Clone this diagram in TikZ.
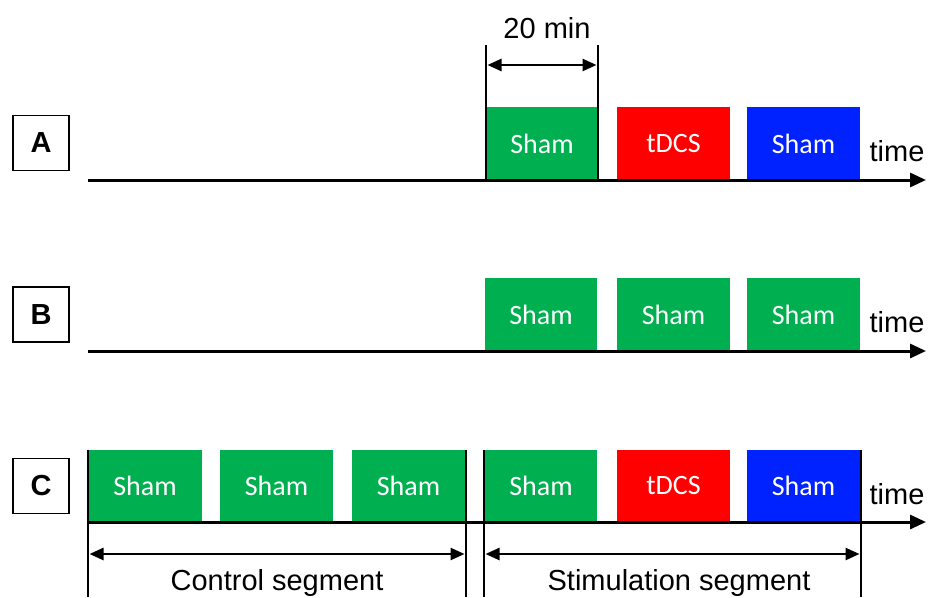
\documentclass[tikz,border=0pt]{standalone}
\usepackage{fontspec}
\setmainfont{Liberation Sans}
\newfontfamily\boxfont{Carlito}
\usetikzlibrary{arrows.meta}
\definecolor{sgreen}{HTML}{00B050}
\definecolor{sred}{HTML}{FF0000}
\definecolor{sblue}{HTML}{0022FF}
\tikzset{
  blk/.style={draw=none, inner sep=0pt, minimum width=113pt, minimum height=73pt, text=white, font=\boxfont\fontsize{28}{30}\selectfont},
  lbl/.style={draw=black, line width=1.5pt, minimum width=56pt, minimum height=55pt, inner sep=0pt, font=\bfseries\fontsize{29}{30}\selectfont},
  txt/.style={inner sep=0pt, font=\fontsize{29}{30}\selectfont},
  axis/.style={line width=3pt, -{Triangle[length=16pt,width=14pt]}},
  vline/.style={line width=2.5pt},
  dim/.style={line width=2.5pt, {Triangle[length=14pt,width=12pt]}-{Triangle[length=14pt,width=12pt]}}
}
\begin{document}
\begin{tikzpicture}[x=1pt,y=-1pt]
\useasboundingbox (0,0) rectangle (928,597);
% labels
\node[lbl] (la) at (41,143) {A};
\node[lbl] (lb) at (41,314.5) {B};
\node[lbl] (lc) at (41,486) {C};
% row A
\node[blk, fill=sgreen, minimum width=112pt] (a1) at (542,143.5) {Sham};
\node[blk, fill=sred] (a2) at (673.5,143.5) {tDCS};
\node[blk, fill=sblue] (a3) at (803.5,143.5) {Sham};
\coordinate (a0) at (88,180);
\coordinate (ae) at (926,180);
\draw[axis] (a0) -- (ae);
\node[txt, anchor=base] (at) at (897,161) {time};
\coordinate (v1t) at (486,45); \coordinate (v1b) at (486,180);
\coordinate (v2t) at (598,45); \coordinate (v2b) at (598,180);
\draw[vline] (v1t) -- (v1b);
\draw[vline] (v2t) -- (v2b);
\coordinate (d1) at (487.5,65); \coordinate (d2) at (596.5,65);
\draw[dim] (d1) -- (d2);
\node[txt, anchor=base] (dt) at (547,38) {20 min};
% row B
\node[blk, fill=sgreen, minimum width=112pt] (b1) at (541,314.5) {Sham};
\node[blk, fill=sgreen] (b2) at (673.5,314.5) {Sham};
\node[blk, fill=sgreen] (b3) at (803.5,314.5) {Sham};
\coordinate (b0) at (88,351);
\coordinate (be) at (926,351);
\draw[axis] (b0) -- (be);
\node[txt, anchor=base] (bt) at (897,332) {time};
% row C
\node[blk, fill=sgreen, minimum width=114pt, minimum height=72pt] (c1) at (145,486) {Sham};
\node[blk, fill=sgreen, minimum height=72pt] (c2) at (276.5,486) {Sham};
\node[blk, fill=sgreen, minimum height=72pt] (c3) at (408.5,486) {Sham};
\node[blk, fill=sgreen, minimum width=112pt, minimum height=72pt] (c4) at (541,486) {Sham};
\node[blk, fill=sred, minimum height=72pt] (c5) at (673.5,486) {tDCS};
\node[blk, fill=sblue, minimum height=72pt] (c6) at (803.5,486) {Sham};
\coordinate (c0) at (88,522);
\coordinate (ce) at (926,522);
\draw[axis] (c0) -- (ce);
\node[txt, anchor=base] (ct) at (897,504) {time};
\coordinate (w1t) at (88,450); \coordinate (w1b) at (88,597);
\coordinate (w2t) at (466,450); \coordinate (w2b) at (466,597);
\coordinate (w3t) at (484,450); \coordinate (w3b) at (484,597);
\coordinate (w4t) at (861,450); \coordinate (w4b) at (861,597);
\draw[vline] (w1t) -- (w1b);
\draw[vline] (w2t) -- (w2b);
\draw[vline] (w3t) -- (w3b);
\draw[vline] (w4t) -- (w4b);
\coordinate (e1) at (89.5,554); \coordinate (e2) at (464.5,554);
\coordinate (e3) at (485.5,554); \coordinate (e4) at (859.5,554);
\draw[dim] (e1) -- (e2);
\draw[dim] (e3) -- (e4);
\node[txt, anchor=base] (cs) at (277,590) {Control segment};
\node[txt, anchor=base] (ss) at (679,590) {Stimulation segment};
\end{tikzpicture}
\end{document}
